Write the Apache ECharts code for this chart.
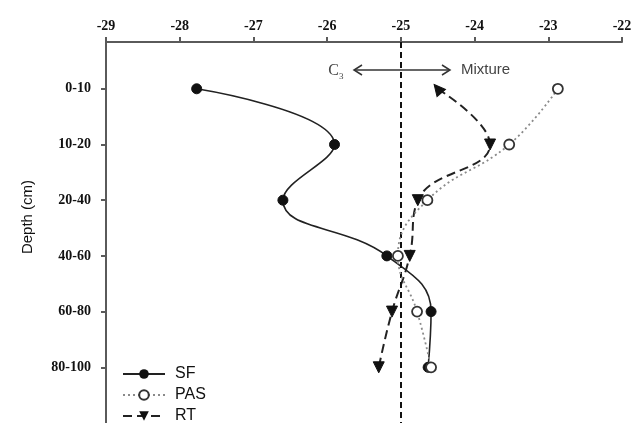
<!DOCTYPE html>
<html><head><meta charset="utf-8">
<script src="https://cdn.jsdelivr.net/npm/echarts@6/dist/echarts.min.js"></script>
<style>html,body{margin:0;padding:0;background:#fff}#c{width:644px;height:423px}</style>
</head><body><div id="c"></div>
<script>
const depthLabels = ['0-10', '10-20', '20-40', '40-60', '60-80', '80-100'];
const depthIndex = [0, 1, 2, 3, 4, 5];
const sfValues  = [-27.77, -25.9, -26.6, -25.19, -24.59, -24.63];
const pasValues = [-22.87, -23.53, -24.64, -25.04, -24.78, -24.59];
const rtValues  = [-24.50, -23.79, -24.77, -24.88, -25.12, -25.30];
const rtRotate  = [40, 180, 180, 180, 180, 180];
const seriesNames = ['SF', 'PAS', 'RT'];
const xMin = -29, xMax = -22, xStep = 1;
const refLine = -25;

const chart = echarts.init(document.getElementById('c'), null, {renderer: 'canvas'});
const axisColor = '#5a5a5a';
const serifBold = {fontFamily: 'Liberation Serif', fontWeight: 'bold', fontSize: 14, color: '#111'};

function pts(vals) { return vals.map((v, i) => [v, depthIndex[i]]); }
const legendTops = [366, 387, 408];

chart.setOption({
  animation: false,
  grid: {left: 106, right: 22, top: 42, bottom: 0, containLabel: false},
  xAxis: {
    type: 'value', position: 'top', min: xMin, max: xMax, interval: xStep,
    axisLine: {show: true, onZero: false, lineStyle: {color: axisColor, width: 2}},
    axisTick: {show: true, inside: false, length: 5, lineStyle: {color: axisColor, width: 2}},
    axisLabel: Object.assign({margin: 9}, serifBold),
    splitLine: {show: false}
  },
  yAxis: {
    type: 'value', inverse: true, min: -0.84, max: 6,
    axisLine: {show: true, onZero: false, lineStyle: {color: axisColor, width: 2}},
    axisTick: {show: true, length: 5, customValues: depthIndex, lineStyle: {color: axisColor, width: 2}},
    axisLabel: Object.assign({margin: 15, customValues: depthIndex,
      formatter: v => depthLabels[Math.round(v)]}, serifBold),
    splitLine: {show: false}
  },
  legend: seriesNames.map((n, i) => ({
    orient: 'vertical', left: 122, top: legendTops[i], padding: 0, itemWidth: 42, itemHeight: 12,
    textStyle: {fontFamily: 'Liberation Sans', fontSize: 16, color: '#111', padding: [0, 0, 0, 5]},
    data: [n]
  })),
  graphic: [
    {type: 'text', rotation: Math.PI / 2, x: 28, y: 217,
      style: {text: 'Depth (cm)', fontFamily: 'Liberation Sans', fontSize: 15, fill: '#111', align: 'center', verticalAlign: 'middle'}},
    {type: 'text', x: 339, y: 71, style: {text: 'C', fontFamily: 'Liberation Serif', fontSize: 16, fill: '#444', align: 'right', verticalAlign: 'middle'}},
    {type: 'text', x: 339, y: 77, style: {text: '3', fontFamily: 'Liberation Serif', fontSize: 9, fill: '#444', align: 'left', verticalAlign: 'middle'}},
    {type: 'line', shape: {x1: 354, y1: 70, x2: 450, y2: 70}, style: {stroke: '#333', lineWidth: 1.5}},
    {type: 'polyline', shape: {points: [[362, 65], [354, 70], [362, 75]]}, style: {stroke: '#333', lineWidth: 1.5, fill: null}},
    {type: 'polyline', shape: {points: [[442, 65], [450, 70], [442, 75]]}, style: {stroke: '#333', lineWidth: 1.5, fill: null}},
    {type: 'text', x: 461, y: 70, style: {text: 'Mixture', fontFamily: 'Liberation Sans', fontSize: 15, fill: '#444', align: 'left', verticalAlign: 'middle'}}
  ],
  series: [
    {
      name: 'SF', type: 'line', smooth: 0.45, data: pts(sfValues), z: 4,
      symbol: 'circle', symbolSize: 10,
      itemStyle: {color: '#111', borderColor: '#111'},
      lineStyle: {color: '#222', width: 1.6},
      markLine: {
        silent: true, symbol: ['none', 'none'], label: {show: false},
        lineStyle: {color: '#111', type: [6, 4], width: 2},
        data: [{xAxis: refLine}]
      }
    },
    {
      name: 'PAS', type: 'line', smooth: 0.45, data: pts(pasValues), z: 5,
      symbol: 'circle', symbolSize: 10,
      itemStyle: {color: '#fff', borderColor: '#333', borderWidth: 1.8},
      lineStyle: {color: '#8a8a8a', width: 1.8, type: [2, 3]}
    },
    {
      name: 'RT', type: 'line', smooth: 0.45, z: 3,
      data: rtValues.map((v, i) => ({value: [v, depthIndex[i]], symbolRotate: rtRotate[i]})),
      symbol: 'triangle', symbolSize: 11, symbolRotate: 180,
      itemStyle: {color: '#111', borderColor: '#111'},
      lineStyle: {color: '#222', width: 2, type: [9, 5]}
    }
  ]
});
</script></body></html>
